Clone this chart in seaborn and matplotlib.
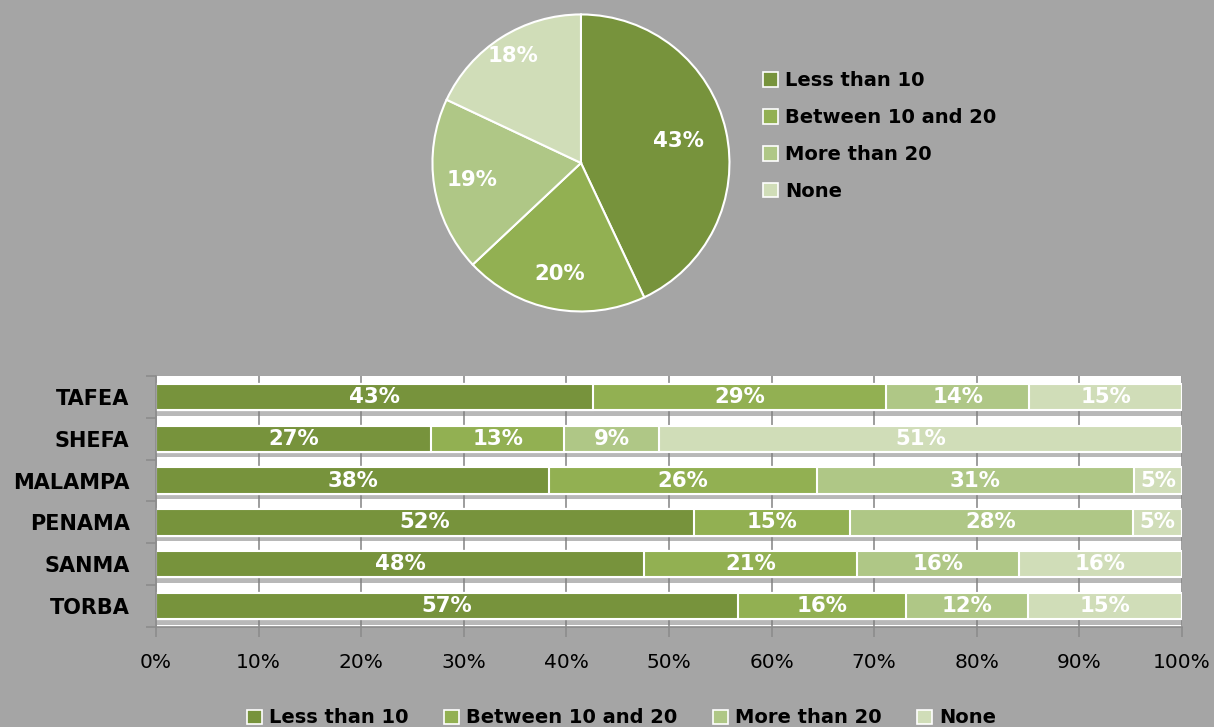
import matplotlib
matplotlib.use("Agg")
import matplotlib.pyplot as plt
import seaborn as sns
import numpy as np
import pandas as pd
from matplotlib import patheffects as pe
from matplotlib.patches import Patch

# ---------------- data ----------------
categories = ["Less than 10", "Between 10 and 20", "More than 20", "None"]
pie_values = [43, 20, 19, 18]

provinces = ["TAFEA", "SHEFA", "MALAMPA", "PENAMA", "SANMA", "TORBA"]
less_than_10 = [42.6, 26.8, 38.3, 52.4, 47.6, 56.7]
between_10_20 = [28.6, 13.0, 26.1, 15.2, 20.7, 16.4]
more_than_20 = [13.9, 9.2, 30.9, 27.6, 15.8, 11.9]
none_vals = [14.9, 51.0, 4.7, 4.8, 15.9, 15.0]
x_ticks = [0, 10, 20, 30, 40, 50, 60, 70, 80, 90, 100]

# ---------------- style ----------------
colors = ["#77933C", "#92B052", "#AFC786", "#D0DDB8"]
bg = "#A5A5A5"
sns.set_theme(style="white")
plt.rcParams["font.family"] = ["DejaVu Sans"]
plt.rcParams["text.color"] = "black"

fig = plt.figure(figsize=(12.14, 7.27), dpi=100, facecolor=bg)

# ---------------- pie ----------------
ax1 = fig.add_axes([0.355, 0.5695, 0.2471, 0.4127])
ax1.set_facecolor(bg)
wedges, texts, autotexts = ax1.pie(
    pie_values, colors=colors, startangle=90, counterclock=False,
    wedgeprops=dict(edgecolor="white", linewidth=1.5),
    autopct=lambda p: f"{p:.0f}%", pctdistance=0.72,
    textprops=dict(color="white", fontweight="bold", fontsize=15.3),
)
label_dist = [0.67, 0.76, 0.74, 0.85]
for t, d in zip(autotexts, label_dist):
    x, y = t.get_position()
    t.set_position((x * d / 0.72, y * d / 0.72))
ax1.set_xlim(-1.01, 1.01)
ax1.set_ylim(-1.01, 1.01)
ax1.set_aspect("equal")

handles = [Patch(facecolor=c, edgecolor="white", linewidth=1.2) for c in colors]
fig.legend(handles, categories, loc="upper left", bbox_to_anchor=(0.6285, 0.902),
           frameon=False, handlelength=0.77, handleheight=0.77, handletextpad=0.36,
           labelspacing=0.92, borderpad=0, borderaxespad=0, labelcolor="black",
           prop=dict(weight="bold", size=14))

# ---------------- stacked bars ----------------
ax2 = fig.add_axes([0.1285, 0.1376, 0.8451, 0.3452])
ax2.set_facecolor("white")
ax2.set_axisbelow(True)

series = [less_than_10, between_10_20, more_than_20, none_vals]
cums = np.cumsum(np.array(series), axis=0)
for i in range(len(series) - 1, -1, -1):
    df = pd.DataFrame({"province": provinces, "value": cums[i]})
    sns.barplot(data=df, x="value", y="province", order=provinces, orient="h",
                color=colors[i], saturation=1, width=0.63, edgecolor="white",
                linewidth=1.5, ax=ax2)
    if i == len(series) - 1:
        for p in ax2.patches:
            p.set_path_effects([pe.SimplePatchShadow(offset=(1, -4), shadow_rgbFace="#7F7F7F", alpha=0.55),
                                pe.Normal()])

for i, vals in enumerate(series):
    starts = cums[i] - np.array(vals)
    for j, v in enumerate(vals):
        ax2.text(starts[j] + v / 2, j, f"{v:.0f}%", ha="center", va="center",
                 color="white", fontweight="bold", fontsize=15.3)

ax2.set_xlim(0, 100)
ax2.set_ylim(len(provinces) - 0.5, -0.5)
ax2.set_xticks(x_ticks)
ax2.set_xticklabels([f"{t}%" for t in x_ticks])
ax2.set_yticks(range(len(provinces)))
ax2.set_yticklabels(provinces, fontweight="bold")
ax2.set_yticks(np.arange(-0.5, len(provinces)), minor=True)
ax2.set_xlabel("")
ax2.set_ylabel("")
ax2.xaxis.grid(True, color="#8C8C8C", linewidth=1.2)
ax2.yaxis.grid(False)
ax2.tick_params(axis="y", which="major", length=0, labelsize=15, pad=19, labelcolor="black")
ax2.tick_params(axis="y", which="minor", length=7, width=1.2, color="#8C8C8C", left=True)
ax2.tick_params(axis="x", which="major", length=7, width=1.2, color="#8C8C8C",
                labelsize=14.5, pad=12, bottom=True, labelcolor="black")
for s in ["top", "right"]:
    ax2.spines[s].set_visible(False)
for s in ["left", "bottom"]:
    ax2.spines[s].set_color("#8C8C8C")
    ax2.spines[s].set_linewidth(1.2)

fig.legend(handles, categories, loc="center", bbox_to_anchor=(0.512, 0.0125), ncol=4,
           frameon=False, handlelength=0.75, handleheight=0.75, handletextpad=0.36,
           columnspacing=1.85, borderpad=0, borderaxespad=0, labelcolor="black",
           prop=dict(weight="bold", size=14))

fig.savefig("out.png", dpi=100, facecolor=bg)
